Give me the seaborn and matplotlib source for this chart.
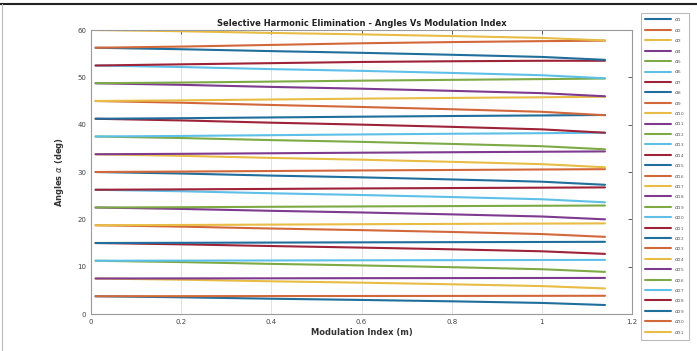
import numpy as np
import pandas as pd
import matplotlib
matplotlib.use("Agg")
import matplotlib.pyplot as plt
import seaborn as sns

m_values = [0.01, 0.2, 0.4, 0.6, 0.8, 1.0, 1.14]

alpha_1 = [3.75, 3.53, 3.23, 2.97, 2.68, 2.34, 1.9]
alpha_2 = [3.75, 3.77, 3.79, 3.81, 3.82, 3.84, 3.85]
alpha_3 = [7.5, 7.25, 6.91, 6.62, 6.28, 5.90, 5.4]
alpha_4 = [7.5, 7.52, 7.54, 7.57, 7.59, 7.61, 7.62]
alpha_5 = [11.25, 10.97, 10.59, 10.26, 9.89, 9.46, 8.9]
alpha_6 = [11.25, 11.28, 11.31, 11.35, 11.38, 11.41, 11.43]
alpha_7 = [15.0, 14.72, 14.36, 14.03, 13.67, 13.25, 12.7]
alpha_8 = [15.0, 15.04, 15.09, 15.14, 15.18, 15.22, 15.25]
alpha_9 = [18.75, 18.46, 18.06, 17.72, 17.33, 16.89, 16.3]
alpha_10 = [18.75, 18.81, 18.89, 18.97, 19.04, 19.10, 19.15]
alpha_11 = [22.5, 22.2, 21.8, 21.45, 21.05, 20.6, 20.0]
alpha_12 = [22.5, 22.56, 22.65, 22.73, 22.8, 22.87, 22.92]
alpha_13 = [26.25, 25.93, 25.51, 25.14, 24.71, 24.24, 23.6]
alpha_14 = [26.25, 26.33, 26.43, 26.53, 26.61, 26.69, 26.75]
alpha_15 = [30.0, 29.68, 29.24, 28.87, 28.43, 27.95, 27.3]
alpha_16 = [30.0, 30.09, 30.21, 30.33, 30.43, 30.53, 30.6]
alpha_17 = [33.75, 33.42, 32.98, 32.6, 32.15, 31.66, 31.0]
alpha_18 = [33.75, 33.84, 33.96, 34.08, 34.18, 34.28, 34.35]
alpha_19 = [37.5, 37.18, 36.74, 36.37, 35.93, 35.45, 34.8]
alpha_20 = [37.5, 37.62, 37.78, 37.94, 38.08, 38.2, 38.3]
alpha_21 = [41.25, 40.9, 40.42, 40.01, 39.54, 39.01, 38.3]
alpha_22 = [41.25, 41.37, 41.53, 41.69, 41.83, 41.95, 42.05]
alpha_23 = [45.0, 44.64, 44.16, 43.74, 43.26, 42.72, 42.0]
alpha_24 = [45.0, 45.14, 45.32, 45.5, 45.65, 45.79, 45.9]
alpha_25 = [48.75, 48.42, 47.98, 47.6, 47.15, 46.66, 46.0]
alpha_26 = [48.75, 48.9, 49.1, 49.3, 49.47, 49.63, 49.75]
alpha_27 = [52.5, 52.18, 51.74, 51.37, 50.93, 50.45, 49.8]
alpha_28 = [52.5, 52.75, 53.0, 53.25, 53.4, 53.5, 53.5]
alpha_29 = [56.25, 55.94, 55.54, 55.18, 54.77, 54.31, 53.7]
alpha_30 = [56.25, 56.5, 56.85, 57.2, 57.45, 57.65, 57.75]
alpha_31 = [60.0, 59.74, 59.38, 59.08, 58.72, 58.33, 57.8]

series = [alpha_1, alpha_2, alpha_3, alpha_4, alpha_5, alpha_6, alpha_7, alpha_8,
          alpha_9, alpha_10, alpha_11, alpha_12, alpha_13, alpha_14, alpha_15,
          alpha_16, alpha_17, alpha_18, alpha_19, alpha_20, alpha_21, alpha_22,
          alpha_23, alpha_24, alpha_25, alpha_26, alpha_27, alpha_28, alpha_29,
          alpha_30, alpha_31]
labels = [r"$\alpha_{%d}$" % (i + 1) for i in range(len(series))]

rows = []
for lab, vals in zip(labels, series):
    for m, v in zip(m_values, vals):
        rows.append({"m": m, "angle": v, "series": lab})
df = pd.DataFrame(rows)

matlab_colors = ["#1F6E9C", "#D2683A", "#E8BC45", "#7E3A8E", "#7DAA45", "#5EC0E8", "#9E2238"]
palette = [matlab_colors[i % 7] for i in range(len(series))]

sns.set_style("white")
plt.rcParams["font.family"] = ["DejaVu Sans"]

fig = plt.figure(figsize=(6.97, 3.51), dpi=100)
ax = fig.add_axes([0.1306, 0.1054, 0.7762, 0.8091])

sns.lineplot(data=df, x="m", y="angle", hue="series", palette=palette,
             hue_order=labels, linewidth=1.5, ax=ax, legend=True)

ax.set_xlim(0, 1.2)
ax.set_ylim(0, 60)
ax.set_xticks([0, 0.2, 0.4, 0.6, 0.8, 1.0, 1.2])
ax.set_xticklabels(["0", "0.2", "0.4", "0.6", "0.8", "1", "1.2"])
ax.set_yticks([0, 10, 20, 30, 40, 50, 60])
ax.tick_params(labelsize=5, colors="#444444", direction="in", length=3,
               top=True, right=True, width=0.6)
ax.grid(axis="x", color="#dddddd", linewidth=0.6)
for sp in ax.spines.values():
    sp.set_color("#999999")
    sp.set_linewidth(0.8)

ax.set_xlabel("Modulation Index (m)", fontsize=6, fontweight="bold", color="#333333", labelpad=2)
ax.set_ylabel(r"Angles $\alpha$ (deg)", fontsize=6, fontweight="bold", color="#333333", labelpad=8)
ax.set_title("Selective Harmonic Elimination - Angles Vs Modulation Index",
             fontsize=6, fontweight="bold", color="#222222", pad=3)

handles, labs = ax.get_legend_handles_labels()
ax.get_legend().remove()
leg = fig.legend(handles, labs, loc="upper left", bbox_to_anchor=(641 / 697, 1 - 13 / 351),
                 fontsize=4.2, frameon=True, fancybox=False, handlelength=4.6,
                 labelspacing=0.43, borderpad=0.6, handletextpad=0.5,
                 borderaxespad=0)
leg.get_frame().set_edgecolor("#aaaaaa")
leg.get_frame().set_linewidth(0.8)
for t in leg.get_texts():
    t.set_color("#555555")

# outer frame of the picture
fig.add_artist(plt.Line2D([0, 1], [1 - 4 / 351, 1 - 4 / 351], transform=fig.transFigure,
                          color="#222222", linewidth=1.5))
fig.add_artist(plt.Line2D([2 / 697, 2 / 697], [0, 1 - 4 / 351], transform=fig.transFigure,
                          color="#bbbbbb", linewidth=0.8))

fig.savefig("out.png", dpi=100)
